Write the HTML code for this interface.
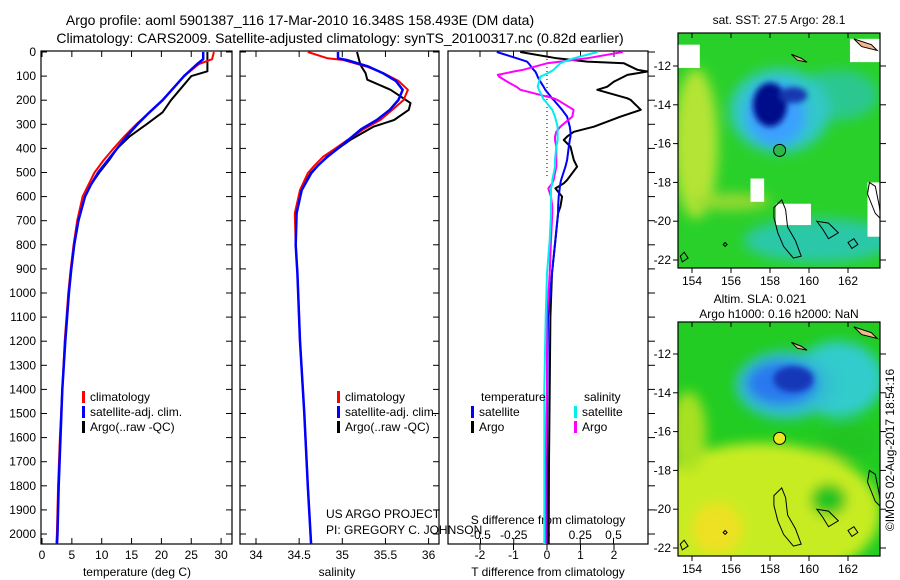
<!DOCTYPE html>
<html><head><meta charset="utf-8"><style>
body{margin:0;background:#fff}
svg{display:block;font-family:"Liberation Sans",sans-serif}
text{fill:#000}
</style></head><body>
<svg id="s" width="900" height="580" viewBox="0 0 900 580">
<defs>
<filter id="bl" x="-50%" y="-50%" width="200%" height="200%"><feGaussianBlur stdDeviation="6"/></filter>
<filter id="bl2" x="-50%" y="-50%" width="200%" height="200%"><feGaussianBlur stdDeviation="3"/></filter>
<clipPath id="c1"><rect x="41" y="51" width="191" height="493"/></clipPath>
<clipPath id="c2"><rect x="240" y="51" width="199" height="493"/></clipPath>
<clipPath id="c3"><rect x="448" y="51" width="200" height="493"/></clipPath>
<clipPath id="m1"><rect x="678" y="33" width="202" height="235"/></clipPath>
<clipPath id="m2"><rect x="678" y="322" width="202" height="234"/></clipPath>
</defs>
<text x="300" y="25" font-size="14" text-anchor="middle">Argo profile: aoml 5901387_116 17-Mar-2010 16.348S 158.493E (DM data)</text>
<text x="340" y="43" font-size="14" text-anchor="middle">Climatology: CARS2009. Satellite-adjusted climatology: synTS_20100317.nc (0.82d earlier)</text>
<g id="g"></g>
<text x="326" y="518" font-size="12">US ARGO PROJECT</text>
<text x="326" y="534" font-size="12">PI: GREGORY C. JOHNSON</text>
<text x="779" y="24" font-size="12" text-anchor="middle">sat. SST: 27.5 Argo: 28.1</text>
<text x="760" y="303" font-size="12" text-anchor="middle">Altim. SLA: 0.021</text>
<text x="779" y="318" font-size="12" text-anchor="middle">Argo h1000: 0.16 h2000: NaN</text>
<text transform="translate(894,450) rotate(-90)" font-size="12" text-anchor="middle">©IMOS 02-Aug-2017 18:54:16</text>
</svg>
<script>
// ---- data ----
const tDepth=[0,30,50,100,150,200,250,300,350,400,450,500,550,600,700,800,900,1000,1200,1400,1600,1800,2000,2050];
const tClim=[28.8,28.5,26.3,23.8,22.0,20.2,18.0,15.8,13.8,12.0,10.3,8.8,7.8,6.8,5.9,5.3,4.8,4.4,3.8,3.4,3.0,2.7,2.5,2.4];
const tSat=[27.0,27.0,26.0,23.8,22.0,20.2,18.0,16.0,14.2,12.6,11.0,9.4,8.2,7.2,6.1,5.4,4.9,4.5,3.9,3.4,3.1,2.8,2.6,2.5];
const tArgoDepth=[0,80,100,150,200,250,300,350,400,450,500,550,600,700,800,900];
const tArgo=[27.7,27.7,25.0,23.3,21.6,20.2,17.5,14.7,12.6,11.2,9.6,8.2,7.2,6.1,5.4,4.9];
const sDepth=[0,26,33,60,88,120,157,199,240,282,320,365,400,434,470,503,573,669,800,918,1200,1500,1800,2050];
const sClim=[34.60,34.83,35.01,35.28,35.48,35.65,35.76,35.71,35.58,35.44,35.25,35.06,34.92,34.78,34.68,34.60,34.51,34.45,34.46,34.48,34.51,34.56,34.60,34.64];
const sSat=[34.95,34.95,35.05,35.30,35.47,35.62,35.70,35.65,35.55,35.40,35.22,35.07,34.95,34.83,34.72,34.64,34.53,34.47,34.46,34.48,34.51,34.56,34.60,34.64];
const sArgoDepth=[0,53,88,115,157,212,240,282,310,365,434,503,573,669];
const sArgo=[35.17,35.21,35.27,35.29,35.56,35.79,35.77,35.60,35.36,35.09,34.82,34.63,34.52,34.46];
const dDepth=[0,26,40,47,74,81,95,102,123,144,157,192,199,240,268,310,331,351,365,393,448,476,531,545,566,600,642,669,780,918,1098,1400,1700,2050];
const dTArgo=[-0.8,0.3,1.2,2.3,2.7,3.0,2.4,2.3,2.0,1.8,1.5,2.4,2.5,2.8,2.2,1.4,0.8,0.6,0.5,0.7,0.8,0.9,0.6,0.5,0.25,0.45,0.4,0.33,0.25,0.15,0.1,0.08,0.06,0.05];
const dTSat=[-1.5,-0.9,-0.6,-0.55,-0.4,-0.35,-0.3,-0.28,-0.2,-0.1,-0.05,0.15,0.2,0.45,0.6,0.68,0.7,0.7,0.68,0.65,0.6,0.55,0.42,0.4,0.38,0.35,0.33,0.33,0.25,0.15,0.03,0.01,0.0,0.0];
const dSArgo=[0.57,0.30,0.1,0.0,-0.18,-0.25,-0.37,-0.36,-0.3,-0.23,-0.2,0.05,0.08,0.2,0.19,0.1,0.07,0.06,0.06,0.07,0.07,0.07,0.05,0.04,0.01,0.03,0.04,0.04,0.03,0.02,0.0,0.0,-0.01,-0.01];
const dSSat=[0.38,0.2,0.13,0.1,0.05,0.03,-0.02,-0.05,-0.06,-0.07,-0.06,-0.03,-0.02,0.04,0.06,0.08,0.08,0.08,0.08,0.07,0.06,0.06,0.04,0.04,0.03,0.03,0.03,0.03,0.02,0.0,-0.01,-0.02,-0.02,-0.02];
const depthTicks=[0,100,200,300,400,500,600,700,800,900,1000,1100,1200,1300,1400,1500,1600,1700,1800,1900,2000];
const tempTicks=[0,5,10,15,20,25,30];
const salTicks=[34,34.5,35,35.5,36];
const tdTicks=[-2,-1,0,1,2];
const sdTicks=[-0.5,-0.25,0,0.25,0.5];
const sdTickLabels=["-0.5","-0.25","0","0.25","0.5"];
const lonTicks=[154,156,158,160,162];
const latTicks=[-12,-14,-16,-18,-20,-22];
const argoLon=158.493, argoLat=-16.348;

// ---- scales ----
const yD=d=>52+d*0.241;
const xT=v=>42+v*5.97;
const xS=v=>256+(v-34)*86.3;
const xTD=v=>547+v*33.5;
const xSD=v=>547+v*133;
const lonX=l=>692+(l-154)*19.5;
const latY1=l=>66+(-12-l)*19.4;
const latY2=l=>354+(-12-l)*19.4;

const NS='http://www.w3.org/2000/svg';
const G=document.getElementById('g');
function mk(tag,at,parent){const e=document.createElementNS(NS,tag);for(const k in at)e.setAttribute(k,at[k]);(parent||G).appendChild(e);return e;}
function txt(x,y,s,anchor,size,parent){const e=mk('text',{x:x,y:y,'font-size':size||12,'text-anchor':anchor||'middle'},parent);e.textContent=s;return e;}
function line(xs,ds,xf,col,w,clip,name){
  const pts=xs.map((v,i)=>xf(v).toFixed(1)+','+yD(ds[i]).toFixed(1)).join(' ');
  const e=mk('polyline',{points:pts,fill:'none',stroke:col,'stroke-width':w,'clip-path':'url(#'+clip+')','stroke-linejoin':'round'});
  
  
}
function frame(x,w,name){
  const r=mk('rect',{x:x,y:51,width:w,height:493,fill:'none',stroke:'#000','stroke-width':1.2});
  
  
  depthTicks.forEach(d=>{mk('line',{x1:x,x2:x+6,y1:yD(d),y2:yD(d),stroke:'#000'});mk('line',{x1:x+w,x2:x+w-6,y1:yD(d),y2:yD(d),stroke:'#000'});});
}
// panel 1
frame(41,191,'temperature-panel');
depthTicks.forEach(d=>{const t=txt(36,yD(d)+4,String(d),'end');});
tempTicks.forEach(v=>{mk('line',{x1:xT(v),x2:xT(v),y1:51,y2:57,stroke:'#000'});mk('line',{x1:xT(v),x2:xT(v),y1:544,y2:538,stroke:'#000'});txt(xT(v),559,String(v));});
{const t=txt(137,576,'temperature (deg C)');}
line(tArgo,tArgoDepth,xT,'#000',2,'c1','temp-argo-line');
line(tClim,tDepth,xT,'#f00',2,'c1','temp-climatology-line');
line(tSat,tDepth,xT,'#00f',2.5,'c1','temp-satellite-line');
// panel 2
frame(240,199,'salinity-panel');
salTicks.forEach(v=>{mk('line',{x1:xS(v),x2:xS(v),y1:51,y2:57,stroke:'#000'});mk('line',{x1:xS(v),x2:xS(v),y1:544,y2:538,stroke:'#000'});txt(xS(v),559,String(v));});
{const t=txt(337,576,'salinity');}
line(sArgo,sArgoDepth,xS,'#000',2,'c2','sal-argo-line');
line(sClim,sDepth,xS,'#f00',2,'c2','sal-climatology-line');
line(sSat,sDepth,xS,'#00f',2.5,'c2','sal-satellite-line');
// legends
function leg(x,y,col,label,name){
  const g=mk('g',{});
  
  
  mk('rect',{x:x,y:y-6,width:3,height:12,fill:col},g);
  txt(x+8,y+4,label,'start',12,g);
}
leg(82,397,'#f00','climatology','legend-climatology');
leg(82,412,'#00f','satellite-adj. clim.','legend-satellite');
leg(82,427,'#000','Argo(..raw -QC)','legend-argo');
leg(337,397,'#f00','climatology','legend-sal-climatology');
leg(337,412,'#00f','satellite-adj. clim.','legend-sal-satellite');
leg(337,427,'#000','Argo(..raw -QC)','legend-sal-argo');
// panel 3
{const r=mk('rect',{x:448,y:51,width:200,height:493,fill:'none',stroke:'#000','stroke-width':1.2});}
depthTicks.forEach(d=>{mk('line',{x1:648,x2:655,y1:yD(d),y2:yD(d),stroke:'#000'});});
tdTicks.forEach(v=>{mk('line',{x1:xTD(v),x2:xTD(v),y1:51,y2:57,stroke:'#000'});mk('line',{x1:xTD(v),x2:xTD(v),y1:544,y2:550,stroke:'#000'});txt(xTD(v),559,String(v));});
sdTicks.forEach((v,i)=>{mk('line',{x1:xSD(v),x2:xSD(v),y1:544,y2:538,stroke:'#000'});txt(xSD(v),539,sdTickLabels[i]);});
txt(548,524,'S difference from climatology');
{const t=txt(548,576,'T difference from climatology');}
mk('line',{x1:547,x2:547,y1:51,y2:yD(520),stroke:'#000','stroke-dasharray':'1,3'});
line(dTArgo,dDepth,xTD,'#000',2,'c3','tdiff-argo-line');
line(dTSat,dDepth,xTD,'#00f',2,'c3','tdiff-satellite-line');
line(dSArgo,dDepth,xSD,'#f0f',2,'c3','sdiff-argo-line');
line(dSSat,dDepth,xSD,'#0ee',2,'c3','sdiff-satellite-line');
txt(481,401,'temperature','start');txt(584,401,'salinity','start');
leg(471,412,'#00f','satellite','legend-tdiff-satellite');
leg(471,427,'#000','Argo','legend-tdiff-argo');
leg(574,412,'#0ee','satellite','legend-sdiff-satellite');
leg(574,427,'#f0f','Argo','legend-sdiff-argo');

// ---- maps ----
function coast(g,ly){
  const shapes=[
   [[158.2,-19.3],[158.6,-18.9],[158.8,-19.4],[158.9,-20.3],[159.3,-21.0],[159.6,-21.8],[159.2,-21.9],[158.7,-21.3],[158.4,-20.6],[158.2,-19.8]],
   [[160.4,-20.0],[161.0,-20.1],[161.5,-20.6],[161.0,-20.9],[160.7,-20.4]],
   [[162.0,-21.1],[162.3,-20.9],[162.5,-21.2],[162.2,-21.4]],
   [[163.1,-18.0],[163.4,-18.2],[163.6,-19.2],[163.7,-19.9],[163.4,-19.6],[163.0,-18.6]],
   [[153.4,-21.8],[153.6,-21.6],[153.8,-21.9],[153.5,-22.1]],
   [[155.7,-21.1],[155.8,-21.2],[155.7,-21.3],[155.6,-21.2]]];
  shapes.forEach(s=>{mk('polygon',{points:s.map(p=>lonX(p[0]).toFixed(1)+','+ly(p[1]).toFixed(1)).join(' '),fill:'none',stroke:'#000','stroke-width':1},g);});
  mk('polygon',{points:[[162.3,-10.6],[163.2,-10.9],[163.5,-11.2],[162.7,-11.0]].map(p=>lonX(p[0])+','+ly(p[1])).join(' '),fill:'#f4b890',stroke:'#000'},g);
  mk('polygon',{points:[[159.1,-11.4],[159.6,-11.6],[159.9,-11.8],[159.4,-11.7]].map(p=>lonX(p[0])+','+ly(p[1])).join(' '),fill:'#f4b890',stroke:'#000'},g);
}
function mapAxes(g,y0,h,ly){
  mk('rect',{x:678,y:y0,width:202,height:h,fill:'none',stroke:'#000','stroke-width':1.2},g);
  lonTicks.forEach(l=>{mk('line',{x1:lonX(l),x2:lonX(l),y1:y0,y2:y0+5,stroke:'#000'},g);mk('line',{x1:lonX(l),x2:lonX(l),y1:y0+h,y2:y0+h+5,stroke:'#000'},g);txt(lonX(l),y0+h+17,String(l),'middle',12,g);});
  latTicks.forEach(l=>{mk('line',{x1:673,x2:678,y1:ly(l),y2:ly(l),stroke:'#000'},g);mk('line',{x1:880,x2:886,y1:ly(l),y2:ly(l),stroke:'#000'},g);txt(671,ly(l)+4,String(l),'end',12,g);});
}
// SST map
const m1=mk('g',{});


const b1=mk('g',{'clip-path':'url(#m1)'},m1);
mk('rect',{x:678,y:33,width:202,height:235,fill:'#2ad02a'},b1);
const f1=mk('g',{filter:'url(#bl)'},b1);
mk('ellipse',{cx:lonX(154.2),cy:latY1(-16),rx:22,ry:75,fill:'#b4e436'},f1);
mk('ellipse',{cx:lonX(156),cy:latY1(-19),rx:40,ry:8,fill:'#9ada30'},f1);
mk('ellipse',{cx:lonX(160.5),cy:latY1(-21),rx:75,ry:22,fill:'#2cc8a8'},f1);
mk('ellipse',{cx:lonX(161.5),cy:latY1(-13.5),rx:40,ry:25,fill:'#2ac890'},f1);
mk('ellipse',{cx:lonX(158.5),cy:latY1(-14.3),rx:50,ry:42,fill:'#30c8c8'},f1);
mk('ellipse',{cx:lonX(158.3),cy:latY1(-14.5),rx:30,ry:32,fill:'#3aa0ff'},f1);
const f1b=mk('g',{filter:'url(#bl2)'},b1);
mk('ellipse',{cx:lonX(158.0),cy:latY1(-14.0),rx:17,ry:22,fill:'#00108a'},f1b);
mk('ellipse',{cx:lonX(159.2),cy:latY1(-13.5),rx:14,ry:8,fill:'#1838b0'},f1b);
[[162.1,-10.6,2,1.2],[153.2,-10.9,1.2,1.2],[157.0,-17.8,0.7,1.2],[158.3,-19.1,1.8,1.1],[163.0,-18.0,0.8,2.8]].forEach(r=>mk('rect',{x:lonX(r[0]),y:latY1(r[1]),width:r[2]*19.5,height:r[3]*19.4,fill:'#fff'},b1));
coast(b1,latY1);
mk('circle',{cx:lonX(argoLon),cy:latY1(argoLat),r:6,fill:'#2eb84a',stroke:'#000'},b1);
mapAxes(m1,33,235,latY1);
// SLA map
const m2=mk('g',{});


const b2=mk('g',{'clip-path':'url(#m2)'},m2);
mk('rect',{x:678,y:322,width:202,height:234,fill:'#22cc22'},b2);
const f2=mk('g',{filter:'url(#bl)'},b2);
mk('ellipse',{cx:lonX(157.5),cy:latY2(-20.2),rx:120,ry:70,fill:'#c8ec22'},f2);
mk('ellipse',{cx:lonX(153.8),cy:latY2(-16),rx:18,ry:40,fill:'#a8e020'},f2);
mk('ellipse',{cx:lonX(155.3),cy:latY2(-21),rx:25,ry:25,fill:'#eee020'},f2);
mk('ellipse',{cx:lonX(161),cy:latY2(-19.5),rx:18,ry:16,fill:'#22c422'},f2);
mk('ellipse',{cx:lonX(162),cy:latY2(-16.5),rx:30,ry:18,fill:'#22c422'},f2);
mk('ellipse',{cx:lonX(161.5),cy:latY2(-13.3),rx:45,ry:38,fill:'#30cccc'},f2);
mk('ellipse',{cx:lonX(158.8),cy:latY2(-13.6),rx:50,ry:34,fill:'#30c0d0'},f2);
mk('ellipse',{cx:lonX(158.6),cy:latY2(-13.5),rx:36,ry:22,fill:'#2a78ee'},f2);
const f2b=mk('g',{filter:'url(#bl2)'},b2);
mk('ellipse',{cx:lonX(159.2),cy:latY2(-13.3),rx:20,ry:13,fill:'#1238b8'},f2b);
coast(b2,latY2);
mk('circle',{cx:lonX(argoLon),cy:latY2(argoLat),r:6,fill:'#e8e820',stroke:'#000'},b2);
mapAxes(m2,322,234,latY2);
</script>
</body></html>
